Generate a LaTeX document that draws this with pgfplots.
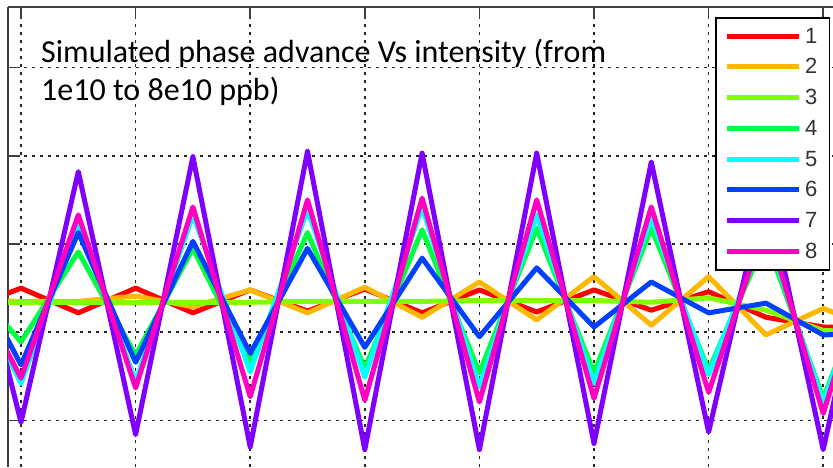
\documentclass[border=0pt]{standalone}
\usepackage{fontspec}
\setmainfont{Carlito}
\newfontfamily\legfont{Liberation Sans}
\usepackage{pgfplots}
\usepackage{pgfplotstable}
\pgfplotsset{compat=1.18}
\definecolor{c1}{RGB}{255,0,0}
\definecolor{c2}{RGB}{255,184,0}
\definecolor{c3}{RGB}{128,255,0}
\definecolor{c4}{RGB}{0,255,64}
\definecolor{c5}{RGB}{0,255,255}
\definecolor{c6}{RGB}{0,64,255}
\definecolor{c7}{RGB}{128,0,255}
\definecolor{c8}{RGB}{255,0,191}
\pgfplotstableread{
k  s1    s2    s3    s4    s5    s6    s7    s8
-1 -0.75 -0.64 -0.67 -0.36 -0.27 -0.13  0.58 -0.27
0  -0.50 -0.65 -0.66 -1.11 -1.58 -1.37 -2.02 -1.52
1  -0.78 -0.65 -0.66 -0.09  0.25  0.13  0.82  0.33
2  -0.50 -0.59 -0.66 -1.26 -1.56 -1.34 -2.16 -1.63
3  -0.78 -0.71 -0.66 -0.05  0.33  0.03  0.99  0.42
4  -0.52 -0.52 -0.66 -1.34 -1.45 -1.24 -2.30 -1.73
5  -0.76 -0.78 -0.65  0.13  0.39 -0.05  1.05  0.50
6  -0.51 -0.49 -0.65 -1.41 -1.51 -1.17 -2.33 -1.77
7  -0.78 -0.83 -0.65  0.16  0.42 -0.16  1.03  0.52
8  -0.52 -0.43 -0.64 -1.46 -1.62 -1.05 -2.33 -1.79
9  -0.77 -0.86 -0.64  0.18  0.33 -0.27  1.03  0.50
10 -0.52 -0.37 -0.64 -1.46 -1.58 -0.94 -2.26 -1.75
11 -0.75 -0.92 -0.66  0.18  0.30 -0.43  0.93  0.42
12 -0.54 -0.37 -0.61 -1.43 -1.48 -0.78 -2.13 -1.68
13 -0.83 -1.03 -0.75  0.05  0.16 -0.67  0.67  0.25
14 -0.94 -0.73 -0.98 -1.75 -1.80 -1.03 -2.33 -1.92
15 -0.95 -0.98 -1.00 -0.07  0.05 -1.01  0.61  0.16
}\phasedata
\begin{document}
\begin{tikzpicture}
\path[use as bounding box, fill=white] (0pt,0pt) rectangle (833pt,-467pt);
\begin{axis}[
  at={(8pt,-7pt)}, anchor=north west,
  scale only axis, width=825pt, height=460pt,
  xmin=-0.227, xmax=14.171, ymin=-2.527, ymax=2.686,
  axis x line*=top, axis y line*=left,
  axis line style={line width=2pt, black!75},
  xtick={0,2,...,14}, ytick={-2,-1,0,1,2},
  xticklabels={}, yticklabels={},
  tick align=inside, major tick length=12pt,
  tick style={line width=1.5pt, black!75},
  grid=major,
  major grid style={line width=1.7pt, black!85, dash pattern=on 3pt off 5pt},
  every axis plot/.append style={line width=5pt, line join=round, no markers},
  legend cell align=left,
  legend style={at={(0.9964,0.978)}, anchor=north east, draw=black, line width=1.5pt,
    fill=white, inner xsep=8pt, inner ysep=3pt,
    font=\legfont\fontsize{22}{22}\selectfont, text=black!80,
    nodes={inner xsep=4pt, inner ysep=7pt, anchor=west}},
  legend image code/.code={\draw[#1] (0pt,0pt) -- (72pt,0pt);},
]
\addplot[c1] table[x=k, y=s1] {\phasedata};
\addplot[c2] table[x=k, y=s2] {\phasedata};
\addplot[c3] table[x=k, y=s3] {\phasedata};
\addplot[c4] table[x=k, y=s4] {\phasedata};
\addplot[c5] table[x=k, y=s5] {\phasedata};
\addplot[c6] table[x=k, y=s6] {\phasedata};
\addplot[c7] table[x=k, y=s7] {\phasedata};
\addplot[c8] table[x=k, y=s8] {\phasedata};
\legend{1,2,3,4,5,6,7,8}
\end{axis}
\node[anchor=base west, inner sep=0pt, font=\fontsize{32}{38}\selectfont] at (41pt,-62pt) {Simulated phase advance Vs intensity (from};
\node[anchor=base west, inner sep=0pt, font=\fontsize{32}{38}\selectfont] at (41pt,-100pt) {1e10 to 8e10 ppb)};
\end{tikzpicture}
\end{document}
